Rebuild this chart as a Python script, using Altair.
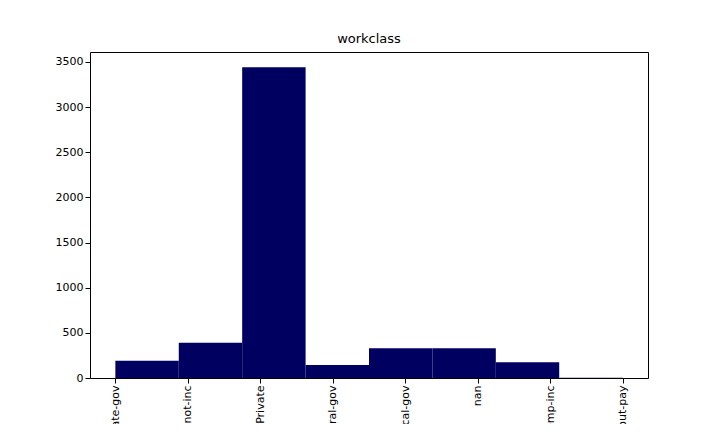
import altair as alt
import pandas as pd

categories = ["State-gov", "Self-emp-not-inc", "Private", "Federal-gov",
              "Local-gov", "nan", "Self-emp-inc", "Without-pay"]
counts = [190, 390, 3440, 145, 330, 330, 175, 2]

n_bins = 8
span = len(categories) - 1
bin_w = span / n_bins
df = pd.DataFrame({
    "start": [i * bin_w for i in range(n_bins)],
    "end": [(i + 1) * bin_w for i in range(n_bins)],
    "count": counts,
})

label_expr = "[" + ",".join(f"'{c}'" for c in categories) + "][datum.value]"

chart = alt.Chart(df).mark_bar(color="#000060").encode(
    x=alt.X("start:Q", title=None,
            scale=alt.Scale(domain=[-0.35, 7.35], nice=False, zero=False),
            axis=alt.Axis(values=list(range(len(categories))), labelExpr=label_expr,
                          labelAngle=-90, grid=False, labelColor="black",
                          tickColor="black", domain=False, labelFontSize=11)),
    x2="end:Q",
    y=alt.Y("count:Q", title=None,
            scale=alt.Scale(domain=[0, 3610], nice=False),
            axis=alt.Axis(values=list(range(0, 3501, 500)), grid=False, format="d",
                          labelColor="black", tickColor="black", domain=False,
                          labelFontSize=11)),
    y2=alt.datum(0),
).properties(
    width=558, height=326,
    title=alt.TitleParams("workclass", fontWeight="normal", fontSize=13, offset=6),
    autosize=alt.AutoSizeParams(type="none"),
    padding={"left": 82, "top": 44, "right": 64, "bottom": 46},
).configure_view(stroke="black", strokeWidth=1).configure_axis(
    labelFont="DejaVu Sans"
).configure_title(font="DejaVu Sans")

chart.save("out.html", embed_options={"renderer": "svg", "actions": False})
